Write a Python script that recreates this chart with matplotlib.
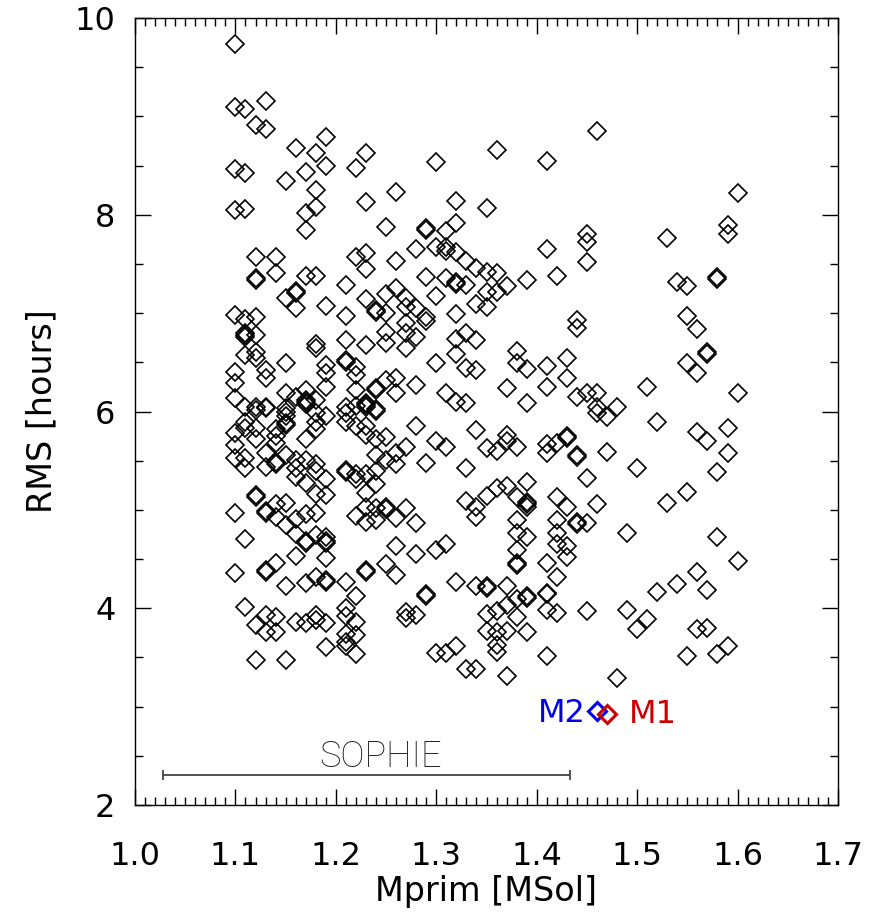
import matplotlib
matplotlib.use("Agg")
import matplotlib.pyplot as plt
from matplotlib.ticker import MultipleLocator

# Primary mass grid (MSol) and the RMS values (hours) read for each mass
mprim_grid = [1.10, 1.11, 1.12, 1.13, 1.14, 1.15, 1.16, 1.17, 1.18, 1.19,
              1.21, 1.22, 1.23, 1.24, 1.25, 1.26, 1.27, 1.28, 1.29, 1.30,
              1.31, 1.32, 1.33, 1.34, 1.35, 1.36, 1.37, 1.38, 1.39, 1.41,
              1.42, 1.43, 1.44, 1.45, 1.46, 1.47, 1.48, 1.49, 1.50, 1.51,
              1.52, 1.53, 1.54, 1.55, 1.56, 1.57, 1.58, 1.59, 1.60]

rms_cols = [
    [9.74, 9.10, 8.47, 8.05, 6.98, 6.40, 6.29, 6.14, 5.78, 5.66, 5.53, 4.97, 4.36],
    [9.07, 8.42, 8.06, 6.94, 6.78, 6.80, 6.76, 6.57, 6.05, 5.89, 5.83, 5.53, 5.43, 4.70, 4.01],
    [8.91, 7.57, 7.36, 7.34, 6.96, 6.78, 6.60, 6.54, 6.05, 6.02, 5.83, 5.72, 5.13, 5.15, 3.83, 3.47],
    [9.16, 8.87, 6.42, 6.34, 6.05, 6.04, 5.58, 5.44, 4.97, 4.99, 4.37, 4.39, 3.93, 3.76],
    [7.57, 7.41, 5.82, 5.75, 5.68, 5.49, 5.47, 5.06, 4.93, 4.46, 3.91, 3.76],
    [8.34, 7.15, 6.49, 6.19, 6.04, 6.00, 5.95, 5.86, 5.88, 5.56, 5.07, 4.85, 4.23, 3.47],
    [8.68, 7.22, 7.20, 7.05, 6.15, 5.51, 5.43, 5.33, 4.91, 4.75, 4.53, 3.86],
    [8.43, 8.02, 7.85, 7.38, 6.22, 6.12, 6.10, 6.08, 5.72, 5.51, 5.27, 4.96, 4.66, 4.68, 4.26, 3.85],
    [8.63, 8.25, 8.08, 7.38, 6.69, 6.65, 6.12, 5.98, 5.89, 5.82, 5.47, 5.40, 5.16, 4.97, 4.74,
     4.32, 3.93, 3.88],
    [8.79, 8.50, 7.07, 6.47, 6.39, 6.25, 5.95, 5.31, 5.15, 4.72, 4.68, 4.66, 4.51, 4.27, 4.29,
     3.85, 3.61],
    [7.29, 6.97, 6.73, 6.50, 6.52, 6.05, 5.98, 5.89, 5.41, 5.39, 4.27, 4.00, 3.92, 3.74, 3.66, 3.62],
    [8.48, 7.57, 6.45, 6.37, 6.22, 6.06, 5.85, 5.36, 5.31, 4.94, 4.12, 3.86, 3.73, 3.53],
    [8.63, 8.13, 7.61, 7.45, 7.14, 6.68, 6.09, 6.07, 6.05, 5.85, 5.76, 5.36, 5.17, 5.03, 4.88,
     4.37, 4.39],
    [7.01, 7.03, 6.24, 6.22, 6.03, 6.01, 5.72, 5.56, 5.40, 5.26, 5.02, 4.90],
    [7.88, 7.19, 7.00, 6.81, 6.70, 6.32, 5.74, 5.51, 5.01, 5.03, 4.45],
    [8.23, 7.53, 7.26, 6.34, 6.19, 5.58, 5.47, 4.92, 4.63, 4.34],
    [7.15, 7.06, 6.90, 6.80, 6.65, 5.64, 5.02, 3.96, 3.90],
    [7.65, 7.05, 6.76, 6.27, 5.85, 4.87, 4.55, 3.93],
    [7.87, 7.85, 7.37, 6.96, 6.92, 5.48, 4.14, 4.12],
    [8.54, 7.67, 7.17, 6.49, 5.70, 4.59, 3.55],
    [7.83, 7.67, 7.63, 7.36, 6.19, 5.64, 4.65, 3.55],
    [8.14, 7.92, 7.62, 7.32, 7.30, 6.99, 6.74, 6.58, 6.10, 4.27, 3.62],
    [7.53, 7.29, 6.80, 6.44, 6.09, 5.43, 5.09, 3.38],
    [7.46, 7.09, 6.73, 6.42, 5.81, 5.03, 4.93, 4.23, 3.38],
    [8.07, 7.42, 7.21, 7.06, 5.63, 5.14, 4.23, 4.21, 3.94, 3.77],
    [8.66, 7.41, 7.21, 5.60, 5.22, 3.97, 3.76, 3.63, 3.56],
    [7.28, 6.24, 5.76, 5.70, 5.24, 4.23, 4.03, 3.77, 3.31],
    [6.62, 6.49, 5.64, 5.13, 4.90, 4.77, 4.59, 4.46, 4.44, 4.09, 3.91],
    [7.34, 6.43, 6.09, 5.28, 5.08, 5.06, 5.03, 4.72, 4.12, 4.10, 3.76],
    [8.55, 7.65, 6.46, 6.25, 5.67, 5.58, 4.46, 4.16, 4.14, 3.98, 3.51],
    [7.38, 5.68, 5.13, 4.90, 4.76, 4.65, 4.32, 3.95],
    [6.54, 6.34, 5.75, 5.73, 5.03, 4.63, 4.52],
    [6.93, 6.85, 6.15, 5.56, 5.54, 4.88, 4.86],
    [7.80, 7.72, 7.52, 6.19, 5.32, 4.87, 3.97],
    [8.85, 6.19, 6.05, 5.98, 5.06],
    [5.94, 5.59],
    [6.05, 3.29],
    [4.77, 3.98],
    [5.43, 3.79],
    [6.25, 3.89],
    [5.89, 4.17],
    [7.76, 5.07],
    [7.32, 4.25],
    [7.28, 6.97, 6.49, 5.18, 3.51],
    [6.84, 6.39, 5.79, 4.37, 3.79],
    [6.60, 6.58, 5.70, 4.19, 3.80],
    [7.37, 7.35, 5.39, 4.72, 3.53],
    [7.90, 7.80, 5.83, 5.58, 3.62],
    [8.22, 6.19, 4.48],
]

m1 = (1.47, 2.93)
m2 = (1.46, 2.96)
sophie_range = (1.028, 1.433)
sophie_rms = 2.31

mprim = [m for m, col in zip(mprim_grid, rms_cols) for _ in col]
rms = [v for col in rms_cols for v in col]

plt.rcParams['font.family'] = ['DejaVu Sans']

fig = plt.figure(figsize=(8.75, 9.15), dpi=100)
ax = fig.add_axes([135 / 875, 110 / 915, 703 / 875, 787 / 915])

ax.plot(mprim, rms, linestyle='none', marker='D', markersize=8.8,
        markerfacecolor='none', markeredgecolor='black', markeredgewidth=1.2)

# the two components of the system
ax.plot(m2[0], m2[1], linestyle='none', marker='D', markersize=8.8,
        markerfacecolor='none', markeredgecolor='#0000ee', markeredgewidth=2.2)
ax.plot(m1[0], m1[1], linestyle='none', marker='D', markersize=8.8,
        markerfacecolor='none', markeredgecolor='#cc0000', markeredgewidth=2.2)
ax.text(m2[0] - 0.011, m2[1] - 0.03, 'M2', color='#0000ee', fontsize=23,
        ha='right', va='center')
ax.text(m1[0] + 0.022, m1[1] - 0.01, 'M1', color='#cc0000', fontsize=23,
        ha='left', va='center')

# SOPHIE mass range
ax.errorbar((sophie_range[0] + sophie_range[1]) / 2, sophie_rms,
            xerr=(sophie_range[1] - sophie_range[0]) / 2, fmt='none',
            ecolor='#444444', elinewidth=1.3, capsize=3.3, capthick=1.3)
ax.text(1.244, sophie_rms + 0.18, 'SOPHIE', color='#222222', fontsize=26,
        ha='center', va='center', family=['Roboto', 'DejaVu Sans'], fontweight='light')

ax.set_xlim(1.0, 1.7)
ax.set_ylim(2, 10)
ax.xaxis.set_major_locator(MultipleLocator(0.1))
ax.xaxis.set_minor_locator(MultipleLocator(0.01))
ax.yaxis.set_major_locator(MultipleLocator(2))
ax.yaxis.set_minor_locator(MultipleLocator(0.5))
ax.tick_params(which='both', direction='in', top=True, right=True, width=1.0)
ax.tick_params(which='major', length=11.5, labelsize=23)
ax.tick_params(which='minor', length=5.8)
ax.tick_params(axis='x', which='major', pad=26)
ax.tick_params(axis='y', which='major', pad=14)
for s in ax.spines.values():
    s.set_linewidth(1.0)

ax.set_xlabel('Mprim [MSol]', fontsize=24, labelpad=2)
ax.set_ylabel('RMS [hours]', fontsize=24, labelpad=12)

fig.savefig('out.png', dpi=100)
